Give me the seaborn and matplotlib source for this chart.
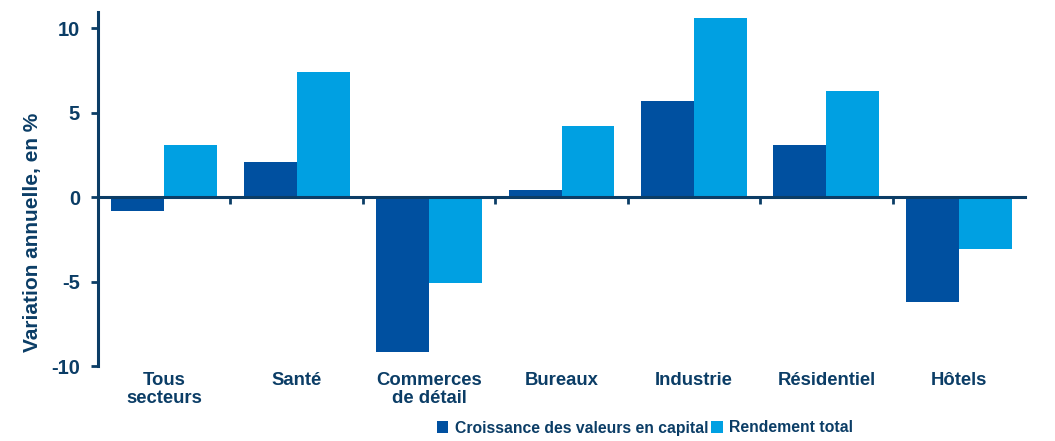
import matplotlib
matplotlib.use("Agg")
import matplotlib.pyplot as plt
import seaborn as sns
import pandas as pd
import numpy as np
from matplotlib.ticker import FixedLocator

categories = ["Tous\nsecteurs", "Santé", "Commerces\nde détail", "Bureaux",
              "Industrie", "Résidentiel", "Hôtels"]
series_names = ["Croissance des valeurs en capital", "Rendement total"]
capital_growth = [-0.8, 2.1, -9.2, 0.4, 5.7, 3.1, -6.2]
total_return = [3.1, 7.4, -5.1, 4.2, 10.6, 6.3, -3.1]
yticks = [-10, -5, 0, 5, 10]

navy = "#0B3D66"
colors = ["#0050A0", "#00A0E2"]

df = pd.DataFrame({
    "cat": categories * 2,
    "serie": [series_names[0]] * len(categories) + [series_names[1]] * len(categories),
    "val": capital_growth + total_return,
})

sns.set_theme(style="white")
plt.rcParams["font.family"] = ["Liberation Sans", "DejaVu Sans"]
plt.rcParams["font.weight"] = "bold"

fig = plt.figure(figsize=(10.55, 4.41), dpi=100)
ax = fig.add_axes([98 / 1055, 1 - 366 / 441, (1025 - 98) / 1055, (366 - 12) / 441])

sns.barplot(data=df, x="cat", y="val", hue="serie", order=categories,
            hue_order=series_names, palette=colors, width=0.8, saturation=1,
            errorbar=None, ax=ax, legend=True, linewidth=0)

ax.set_xlim(-0.5, len(categories) - 0.5)
ax.set_ylim(-10, 10.95)
ax.set_yticks(yticks)
ax.set_yticklabels([str(t) for t in yticks], fontsize=14.5, fontweight="bold", color=navy)
ax.tick_params(axis="y", direction="out", length=5, width=2, color=navy, left=True, pad=8)

for s in ["top", "right"]:
    ax.spines[s].set_visible(False)
ax.spines["left"].set_color(navy)
ax.spines["left"].set_linewidth(2.2)
ax.spines["bottom"].set_position(("data", 0))
ax.spines["bottom"].set_color(navy)
ax.spines["bottom"].set_linewidth(2.2)

# boundary ticks on the zero axis
ax.set_xticks([])
ax.xaxis.set_minor_locator(FixedLocator(np.arange(0.5, len(categories) - 0.5, 1)))
ax.tick_params(axis="x", which="minor", direction="out", length=5, width=2,
               color=navy, bottom=True, labelbottom=False)

# category labels at the bottom of the axes
sec = ax.secondary_xaxis("bottom")
sec.set_xticks(range(len(categories)))
sec.set_xticklabels(categories, fontsize=13.3, fontweight="bold", color=navy,
                    linespacing=1.1)
sec.tick_params(axis="x", length=0, pad=4)
sec.spines["bottom"].set_visible(False)

ax.set_xlabel("")
ax.set_ylabel("Variation annuelle, en %", fontsize=15, fontweight="bold",
              color=navy)
ax.yaxis.set_label_coords(-0.060, 0.378)

handles, labels = ax.get_legend_handles_labels()
ax.legend(handles, labels, loc="center", bbox_to_anchor=(645 / 1055, 1 - 428 / 441),
          bbox_transform=fig.transFigure, ncol=2, frameon=False,
          handlelength=0.75, handleheight=0.75, handletextpad=0.4, columnspacing=0.2,
          prop={"size": 11.3, "weight": "bold"}, labelcolor=navy)

fig.savefig("out.png", dpi=100)
